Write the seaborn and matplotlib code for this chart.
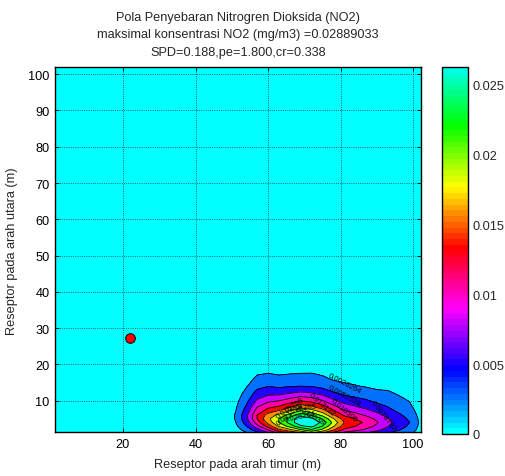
import colorsys
import numpy as np
import matplotlib
matplotlib.use("Agg")
import matplotlib.pyplot as plt
from matplotlib.colors import ListedColormap, Normalize
from matplotlib.cm import ScalarMappable
import seaborn as sns

# ---------------- data ----------------
max_conc = 0.02889033            # mg/m3, stated in the title
n_steps = 11                     # contour step = max_conc / 11 (labels 0.0026264, 0.0052528 ...)
source_x = [22.0]                # red marker
source_y = [27.3]

x_east = [48, 51, 54, 57, 60, 63, 66, 69, 72, 75, 78, 81, 84, 87, 90, 93, 96, 99, 102]
y_north = [0, 1, 2, 3, 4, 5, 6, 8, 10, 12, 14, 16, 18, 20, 22]
# concentration in contour steps; one list per x_east column, bottom to top (y_north)
conc_steps_by_x = [
    [0.04, 0.09, 0.15, 0.21, 0.26, 0.29, 0.29, 0.24, 0.18, 0.14, 0.10, 0.07, 0.05, 0.03, 0.02],
    [0.13, 0.33, 0.55, 0.77, 0.95, 1.06, 1.07, 0.87, 0.67, 0.51, 0.36, 0.25, 0.18, 0.12, 0.09],
    [0.34, 0.84, 1.40, 1.96, 2.42, 2.70, 2.72, 2.21, 1.71, 1.29, 0.92, 0.64, 0.45, 0.31, 0.23],
    [0.62, 1.56, 2.60, 3.64, 4.50, 5.02, 5.04, 4.11, 3.17, 2.39, 1.72, 1.20, 0.83, 0.57, 0.43],
    [1.36, 2.72, 4.08, 5.44, 6.32, 6.80, 6.39, 4.96, 3.77, 2.75, 1.97, 1.29, 0.92, 0.65, 0.48],
    [2.49, 4.15, 5.81, 7.18, 8.01, 8.01, 7.30, 5.35, 3.98, 2.78, 1.83, 1.20, 0.83, 0.59, 0.42],
    [2.91, 4.85, 6.79, 8.39, 9.36, 9.34, 8.44, 6.14, 4.46, 3.03, 1.94, 1.29, 0.87, 0.61, 0.42],
    [3.39, 5.65, 7.91, 9.77, 10.90, 10.85, 9.72, 7.01, 4.97, 3.28, 2.01, 1.36, 0.90, 0.62, 0.43],
    [4.44, 6.66, 8.88, 10.32, 11.00, 10.27, 8.88, 6.55, 4.66, 3.11, 1.96, 1.33, 0.92, 0.64, 0.44],
    [3.88, 5.82, 7.76, 9.02, 9.70, 8.97, 7.76, 5.72, 4.07, 2.72, 1.72, 1.16, 0.81, 0.56, 0.39],
    [3.08, 4.62, 6.16, 7.16, 7.70, 7.12, 6.16, 4.54, 3.23, 2.16, 1.36, 0.92, 0.64, 0.45, 0.31],
    [2.40, 3.60, 4.80, 5.58, 6.00, 5.58, 4.89, 3.60, 2.64, 1.80, 1.18, 0.80, 0.55, 0.39, 0.28],
    [2.16, 3.24, 4.32, 5.02, 5.40, 5.02, 4.40, 3.24, 2.38, 1.62, 1.06, 0.72, 0.50, 0.35, 0.25],
    [1.92, 2.88, 3.84, 4.46, 4.80, 4.46, 3.91, 2.88, 2.11, 1.44, 0.94, 0.64, 0.44, 0.31, 0.22],
    [1.64, 2.46, 3.28, 3.81, 4.10, 3.81, 3.34, 2.46, 1.80, 1.23, 0.80, 0.55, 0.38, 0.27, 0.19],
    [1.32, 1.98, 2.64, 3.07, 3.30, 3.09, 2.76, 2.08, 1.58, 1.16, 0.78, 0.53, 0.36, 0.26, 0.20],
    [1.04, 1.56, 2.08, 2.42, 2.60, 2.43, 2.17, 1.64, 1.25, 0.91, 0.61, 0.42, 0.29, 0.21, 0.16],
    [0.80, 1.20, 1.60, 1.86, 2.00, 1.87, 1.67, 1.26, 0.96, 0.70, 0.47, 0.32, 0.22, 0.16, 0.12],
    [0.32, 0.48, 0.64, 0.74, 0.80, 0.75, 0.67, 0.50, 0.38, 0.28, 0.19, 0.13, 0.09, 0.06, 0.05],
]
x_ticks = [20, 40, 60, 80, 100]
y_ticks = [10, 20, 30, 40, 50, 60, 70, 80, 90, 100]
cbar_ticks = [0, 0.005, 0.01, 0.015, 0.02, 0.025]
cbar_ticklabels = ["0", "0.005", "0.01", "0.015", "0.02", "0.025"]

title_lines = [
    "Pola Penyebaran Nitrogren Dioksida (NO2)",
    "maksimal konsentrasi NO2 (mg/m3) =0.02889033",
    "SPD=0.188,pe=1.800,cr=0.338",
]
x_label = "Reseptor pada arah timur (m)"
y_label = "Reseptor pada arah utara (m)"

# ---------------- styling ----------------
sns.set_theme(style="white")
plt.rcParams["font.family"] = ["Liberation Sans", "DejaVu Sans"]
plt.rcParams["font.size"] = 9.2

step = max_conc / n_steps
Z = np.array(conc_steps_by_x, dtype=float).T * step
X, Y = np.meshgrid(np.array(x_east, float), np.array(y_north, float))

# MATLAB hsv(64) shifted so that it starts and ends at cyan
n_cmap = 64
cmap_colors = [colorsys.hsv_to_rgb(((i + 32) % 64) / 64.0, 1.0, 1.0) for i in range(n_cmap)]
cmap = ListedColormap(cmap_colors)
c_top = 10 * step
norm = Normalize(vmin=0.0, vmax=c_top)

line_levels = [k * step for k in range(1, 11)]
fill_levels = line_levels + [max_conc * 1.05]
band_colors = []
for lv in line_levels:
    idx = min(int(np.floor(lv / c_top * n_cmap + 1e-9)), n_cmap - 1)
    band_colors.append(cmap_colors[idx])

W, H = 505, 477
fig = plt.figure(figsize=(W / 100, H / 100), dpi=100)
fig.patch.set_facecolor("white")

ax = fig.add_axes([55 / W, (H - 433.3) / H, 365.7 / W, 365.0 / H])
ax.set_facecolor(cmap_colors[0])
ax.set_axisbelow(True)
ax.grid(True, linestyle=":", color="#1a3a3a", linewidth=0.6)

ax.contourf(X, Y, Z, levels=fill_levels, colors=band_colors, zorder=1)
cs = ax.contour(X, Y, Z, levels=line_levels, colors="black", linewidths=0.6, zorder=2)
ax.clabel(cs, fmt="%.5g", fontsize=5.6, inline=False, colors="black")

sns.scatterplot(x=source_x, y=source_y, ax=ax, color="red", edgecolor="black",
                s=48, linewidth=0.7, zorder=5, legend=False)

ax.set_xlim(1.25, 102.1)
ax.set_ylim(1.3, 101.9)
ax.set_xticks(x_ticks)
ax.set_yticks(y_ticks)
ax.tick_params(direction="in", length=3, width=0.6, top=True, right=True,
               bottom=True, left=True, colors="black", labelsize=9.2, pad=4)
for sp in ax.spines.values():
    sp.set_color("black")
    sp.set_linewidth(1.0)
ax.set_xlabel(x_label, fontsize=9.2, labelpad=6)
ax.set_ylabel(y_label, fontsize=9.2, labelpad=7)
ax.set_title("\n".join(title_lines), fontsize=9.2, linespacing=1.62, pad=9)

cax = fig.add_axes([441.7 / W, (H - 435.0) / H, 26.5 / W, 367.0 / H])
cb = fig.colorbar(ScalarMappable(norm=norm, cmap=cmap), cax=cax)
cb.set_ticks(cbar_ticks)
cb.set_ticklabels(cbar_ticklabels)
cb.outline.set_edgecolor("black")
cb.outline.set_linewidth(1.0)
cax.tick_params(direction="in", length=3, width=0.6, left=True, right=True,
                labelsize=9.2, pad=3)

fig.savefig("out.png", dpi=100, facecolor="white")
